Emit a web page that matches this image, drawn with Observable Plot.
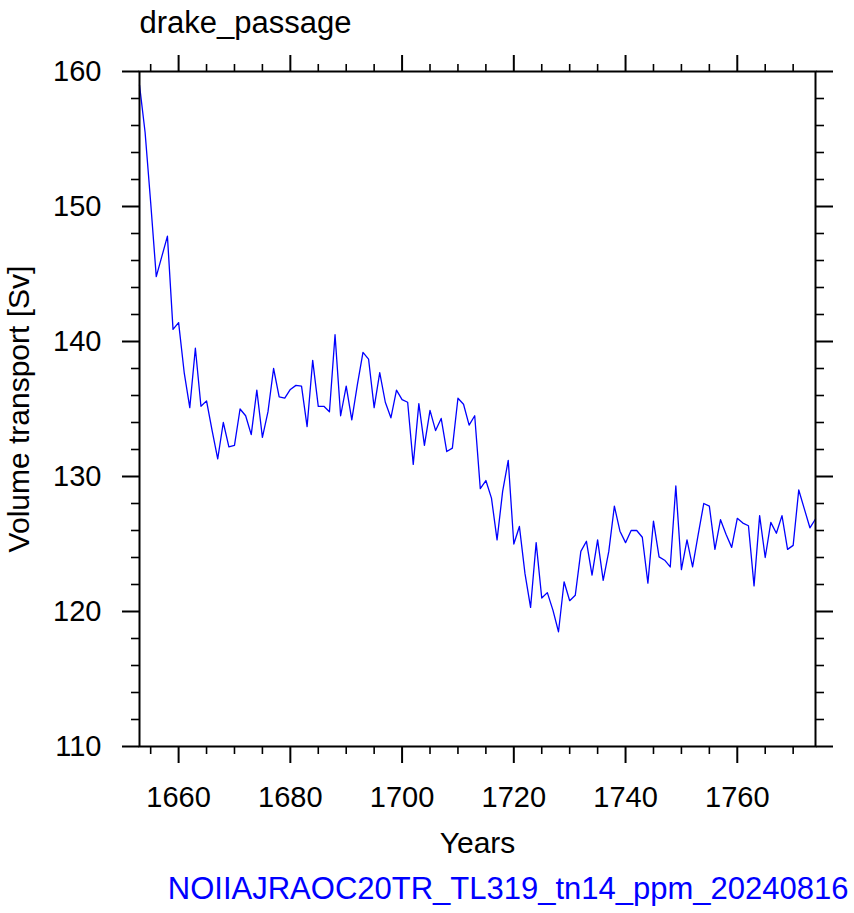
<!DOCTYPE html>
<html>
<head>
<meta charset="utf-8">
<script src="https://cdn.jsdelivr.net/npm/d3@7"></script>
<script src="https://cdn.jsdelivr.net/npm/@observablehq/plot@0.6"></script>
<style>
  html, body { margin: 0; padding: 0; background: #fff; }
  #chart { width: 854px; height: 913px; }
</style>
</head>
<body>
<div id="chart"></div>
<script>
// ---- data ----
const titleText = "drake_passage";
const xLabel = "Years";
const yLabel = "Volume transport [Sv]";
const captionText = "NOIIAJRAOC20TR_TL319_tn14_ppm_20240816";

const firstYear = 1653;
const transport = [
  159.0, 155.5, 150.3, 144.8, 146.3, 147.8, 140.9, 141.4, 137.7, 135.1,   // 1653-1662
  139.5, 135.2, 135.6, 133.4, 131.3, 134.0, 132.2, 132.3, 135.0, 134.5,   // 1663-1672
  133.1, 136.4, 132.9, 134.8, 138.0, 135.9, 135.8, 136.45, 136.75, 136.7, // 1673-1682
  133.7, 138.6, 135.2, 135.2, 134.8, 140.5, 134.5, 136.7, 134.2, 136.8,   // 1683-1692
  139.2, 138.7, 135.1, 137.7, 135.5, 134.35, 136.4, 135.7, 135.5, 130.9,  // 1693-1702
  135.4, 132.3, 134.9, 133.4, 134.3, 131.85, 132.1, 135.8, 135.35, 133.8, // 1703-1712
  134.5, 129.1, 129.7, 128.4, 125.3, 128.9, 131.2, 125.0, 126.3, 122.8,   // 1713-1722
  120.3, 125.1, 121.0, 121.4, 120.1, 118.5, 122.2, 120.8, 121.2, 124.45,  // 1723-1732
  125.2, 122.7, 125.3, 122.3, 124.45, 127.8, 125.95, 125.1, 126.0, 126.0, // 1733-1742
  125.5, 122.1, 126.7, 124.05, 123.8, 123.3, 129.3, 123.1, 125.3, 123.3,  // 1743-1752
  125.7, 128.0, 127.8, 124.6, 126.8, 125.7, 124.75, 126.9, 126.55, 126.35,// 1753-1762
  121.9, 127.1, 124.0, 126.6, 125.8, 127.1, 124.6, 124.9, 129.0, 127.6,   // 1763-1772
  126.2, 126.85                                                           // 1773-1774
];

const xDomain = [1653, 1774];
const yDomain = [110, 160];
const xMajorTicks = [1660, 1680, 1700, 1720, 1740, 1760];
const xMinorTicks = [1655, 1665, 1670, 1675, 1685, 1690, 1695, 1705, 1710, 1715, 1725, 1730, 1735, 1745, 1750, 1755, 1765, 1770];
const yMajorTicks = [110, 120, 130, 140, 150, 160];
const yMinorTicks = [112, 114, 116, 118, 122, 124, 126, 128, 132, 134, 136, 138, 142, 144, 146, 148, 152, 154, 156, 158];

// table built from the arrays
const rows = transport.map((v, i) => ({year: firstYear + i, value: v}));

const font = "'Liberation Sans', Arial, Helvetica, sans-serif";
const empty = () => "";
const fmt = d3.format("d");

const chart = Plot.plot({
  width: 854,
  height: 913,
  marginLeft: 139,
  marginRight: 39,
  marginTop: 71,
  marginBottom: 167,
  style: {fontFamily: font, color: "black", background: "white", overflow: "visible"},
  x: {domain: xDomain, label: null},
  y: {domain: yDomain, label: null},
  marks: [
    // bottom axis
    Plot.axisX({anchor: "bottom", ticks: xMajorTicks, tickSize: 17, tickPadding: 23, tickFormat: fmt, fontSize: 29, strokeWidth: 2, label: null}),
    Plot.axisX({anchor: "bottom", ticks: xMinorTicks, tickSize: 8, tickFormat: empty, strokeWidth: 1.6, label: null}),
    // top axis
    Plot.axisX({anchor: "top", ticks: xMajorTicks, tickSize: 17, tickFormat: empty, strokeWidth: 2, label: null}),
    Plot.axisX({anchor: "top", ticks: xMinorTicks, tickSize: 8, tickFormat: empty, strokeWidth: 1.6, label: null}),
    // left axis
    Plot.axisY({anchor: "left", ticks: yMajorTicks, tickSize: 17, tickPadding: 21, tickFormat: fmt, fontSize: 29, strokeWidth: 2, label: null}),
    Plot.axisY({anchor: "left", ticks: yMinorTicks, tickSize: 8, tickFormat: empty, strokeWidth: 1.6, label: null}),
    // right axis
    Plot.axisY({anchor: "right", ticks: yMajorTicks, tickSize: 17, tickFormat: empty, strokeWidth: 2, label: null}),
    Plot.axisY({anchor: "right", ticks: yMinorTicks, tickSize: 8, tickFormat: empty, strokeWidth: 1.6, label: null}),
    // data line
    Plot.line(rows, {x: "year", y: "value", stroke: "#0000ff", strokeWidth: 1.3}),
    // frame
    Plot.frame({stroke: "black", strokeWidth: 2}),
    // title
    Plot.text([titleText], {text: d => d, frameAnchor: "top-left", textAnchor: "start", lineAnchor: "bottom", dy: -39, fontSize: 31, fill: "black"}),
    // x label
    Plot.text([xLabel], {text: d => d, frameAnchor: "bottom", textAnchor: "middle", lineAnchor: "bottom", dy: 106, fontSize: 30, fill: "black"}),
    // y label
    Plot.text([yLabel], {text: d => d, frameAnchor: "left", textAnchor: "middle", rotate: -90, lineAnchor: "bottom", dx: -111, fontSize: 30, fill: "black"}),
    // caption
    Plot.text([captionText], {text: d => d, frameAnchor: "bottom-right", textAnchor: "end", lineAnchor: "bottom", dx: 33, dy: 152, fontSize: 31, fill: "#0000ff"})
  ]
});

document.getElementById("chart").appendChild(chart);
</script>
</body>
</html>
